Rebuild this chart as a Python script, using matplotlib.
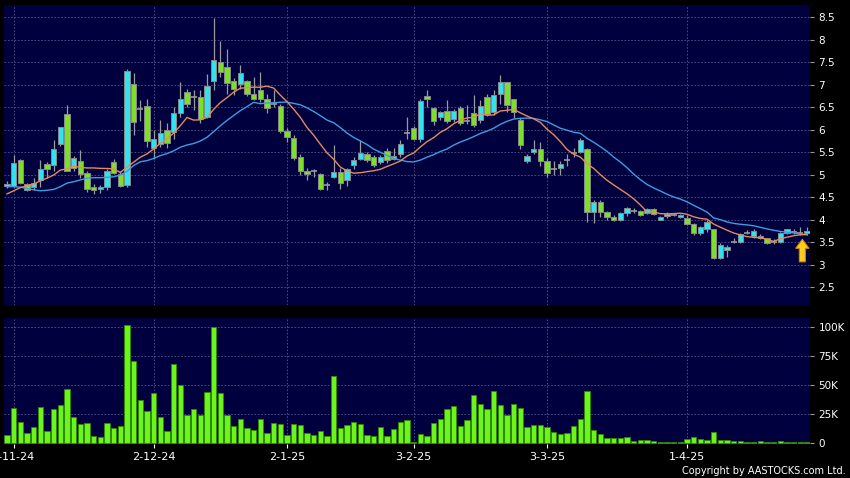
import numpy as np
import pandas as pd
import matplotlib
matplotlib.use("Agg")
import matplotlib.pyplot as plt
from matplotlib.patches import FancyArrow
from matplotlib.ticker import FuncFormatter

# Daily candles, 31-10-24 .. 29-4-25
opens = [4.74, 4.75, 5.33, 4.79, 4.72, 4.87, 5.23, 5.22, 5.68, 6.35,
         5.14, 5.31, 5.04, 4.72, 4.69, 4.72, 5.29, 5.01, 4.76, 7.01,
         6.45, 6.53, 5.58, 5.69, 5.99, 5.95, 6.36, 6.84, 6.72, 6.72,
         6.28, 7.08, 7.51, 7.40, 7.08, 7.01, 7.08, 6.80, 6.88, 6.69,
         6.56, 6.53, 5.97, 5.82, 5.40, 5.08, 5.08, 5.01, 4.77, 4.94,
         5.06, 4.88, 5.21, 5.34, 5.46, 5.40, 5.28, 5.53, 5.41, 5.45,
         5.93, 6.04, 5.80, 6.75, 6.48, 6.28, 6.42, 6.23, 6.47, 6.18,
         6.36, 6.21, 6.73, 6.38, 6.80, 7.05, 6.67, 6.21, 5.30, 5.51,
         5.56, 5.31, 5.12, 5.14, 5.32, 5.50, 5.51, 5.56, 4.17, 4.40,
         4.17, 4.06, 3.99, 4.14, 4.20, 4.18, 4.14, 4.23, 4.00, 4.08,
         4.10, 4.06, 4.04, 3.89, 3.69, 3.78, 3.78, 3.14, 3.32, 3.51,
         3.51, 3.71, 3.63, 3.63, 3.58, 3.51, 3.51, 3.71, 3.75, 3.71,
         3.69]
highs = [4.86, 5.43, 5.35, 4.82, 4.93, 5.33, 5.27, 5.77, 6.06, 6.55,
         5.42, 5.54, 5.07, 4.79, 4.77, 5.12, 5.34, 5.07, 7.34, 7.26,
         6.65, 6.69, 6.00, 6.21, 6.14, 6.51, 7.06, 6.90, 6.88, 6.88,
         7.23, 8.49, 7.97, 7.80, 7.15, 7.43, 7.10, 7.17, 7.28, 6.80,
         6.88, 6.56, 6.03, 5.88, 5.45, 5.14, 5.12, 5.03, 4.83, 5.66,
         5.14, 5.14, 5.38, 5.77, 5.50, 5.44, 5.44, 5.58, 5.60, 5.77,
         6.27, 6.07, 6.67, 6.88, 6.51, 6.41, 6.66, 6.45, 6.52, 6.55,
         6.77, 6.66, 6.80, 6.89, 7.21, 7.06, 6.69, 6.25, 5.46, 5.77,
         5.73, 5.36, 5.30, 5.30, 5.46, 5.60, 5.82, 5.58, 4.43, 4.43,
         4.20, 4.10, 4.17, 4.27, 4.25, 4.21, 4.25, 4.25, 4.08, 4.16,
         4.13, 4.12, 4.10, 3.93, 3.86, 3.99, 3.80, 3.47, 3.43, 3.60,
         3.69, 3.77, 3.78, 3.68, 3.60, 3.57, 3.73, 3.80, 3.78, 3.83,
         3.84]
lows = [4.70, 4.72, 4.78, 4.63, 4.66, 4.73, 4.92, 5.09, 5.63, 5.07,
        5.08, 4.92, 4.62, 4.57, 4.58, 4.66, 5.01, 4.72, 4.73, 5.88,
        6.20, 5.62, 5.34, 5.62, 5.60, 5.80, 6.28, 6.50, 6.43, 6.15,
        6.25, 6.88, 7.17, 6.80, 6.78, 6.91, 6.75, 6.65, 6.62, 6.36,
        6.50, 5.92, 5.73, 5.32, 4.99, 4.88, 4.95, 4.66, 4.66, 4.92,
        4.69, 4.74, 5.12, 5.32, 5.29, 5.17, 5.23, 5.25, 5.32, 5.40,
        5.80, 5.76, 5.73, 6.51, 6.10, 6.21, 6.14, 6.17, 6.10, 6.12,
        6.06, 6.14, 6.30, 6.32, 6.58, 6.40, 6.25, 5.56, 5.25, 5.46,
        5.20, 4.94, 5.00, 5.00, 5.20, 5.40, 5.47, 3.95, 3.92, 4.05,
        4.00, 3.97, 3.97, 4.07, 4.15, 4.08, 4.12, 4.10, 3.99, 4.04,
        4.07, 4.04, 3.87, 3.66, 3.66, 3.73, 3.13, 3.12, 3.17, 3.48,
        3.48, 3.68, 3.60, 3.56, 3.46, 3.46, 3.48, 3.68, 3.68, 3.66,
        3.66]
closes = [4.78, 5.25, 4.81, 4.66, 4.81, 5.12, 5.12, 5.57, 6.06, 5.09,
          5.36, 5.01, 4.67, 4.66, 4.72, 5.09, 5.04, 4.75, 7.30, 6.17,
          6.45, 5.74, 5.78, 5.93, 5.71, 6.36, 6.69, 6.56, 6.72, 6.23,
          6.98, 7.54, 7.28, 7.04, 6.91, 7.25, 6.80, 6.69, 6.69, 6.47,
          6.56, 5.97, 5.83, 5.37, 5.08, 5.01, 5.08, 4.69, 4.77, 5.05,
          4.82, 5.12, 5.32, 5.47, 5.32, 5.21, 5.40, 5.32, 5.34, 5.69,
          5.93, 5.80, 6.64, 6.68, 6.20, 6.39, 6.20, 6.42, 6.14, 6.18,
          6.10, 6.53, 6.34, 6.78, 7.06, 6.54, 6.40, 5.66, 5.42, 5.56,
          5.31, 5.03, 5.12, 5.23, 5.32, 5.47, 5.77, 4.17, 4.40, 4.17,
          4.05, 3.99, 4.14, 4.25, 4.20, 4.11, 4.23, 4.12, 4.05, 4.13,
          4.10, 4.09, 3.89, 3.69, 3.83, 3.95, 3.14, 3.43, 3.38, 3.51,
          3.67, 3.71, 3.74, 3.58, 3.48, 3.51, 3.71, 3.78, 3.72, 3.71,
          3.74]
# volume in thousands of shares
volumes = [6.6, 30.5, 18.4, 8.9, 13.8, 31.3, 10.1, 29.0, 33.0, 46.6,
           22.7, 16.1, 17.0, 6.0, 4.9, 17.5, 13.2, 14.9, 101.4, 70.7,
           37.1, 27.6, 43.1, 22.4, 10.3, 68.1, 49.7, 24.4, 29.0, 23.9,
           44.0, 100.0, 42.8, 23.9, 14.7, 20.7, 12.6, 11.5, 20.7, 8.6,
           17.5, 16.4, 7.2, 16.4, 15.5, 8.6, 7.2, 10.6, 5.7, 57.2,
           12.6, 15.2, 18.4, 16.1, 7.2, 6.0, 14.1, 6.3, 12.1, 17.8,
           19.5, 0.6, 7.4, 6.0, 17.0, 20.7, 29.0, 31.9, 14.7, 19.8,
           41.4, 33.6, 29.3, 44.8, 32.8, 24.1, 33.3, 29.9, 14.1, 15.2,
           15.2, 13.5, 9.8, 7.8, 8.6, 14.9, 20.4, 44.5, 11.5, 7.5,
           4.0, 4.0, 4.3, 5.2, 1.7, 2.3, 2.3, 2.0, 1.1, 1.1,
           1.1, 1.1, 3.7, 4.9, 3.7, 2.6, 9.2, 2.6, 2.3, 2.0,
           1.7, 0.9, 0.6, 1.4, 1.1, 1.1, 1.7, 1.1, 1.1, 1.1,
           0.9]

# moving averages before enough history is shown
ma10_start = [4.57, 4.64, 4.71, 4.75, 4.79, 4.86, 4.92, 4.99, 5.10]
ma20_start = [4.73, 4.73, 4.72, 4.69, 4.66, 4.64, 4.65, 4.67, 4.73, 4.81,
              4.84, 4.88, 4.92, 4.93, 4.93, 4.94, 4.95, 4.99, 5.07]

# x labels: first trading day of each month
date_idx = [1, 22, 42, 61, 81, 102]
date_labels = ["1-11-24", "2-12-24", "2-1-25", "3-2-25", "3-3-25", "1-4-25"]

o = np.array(opens)
h = np.array(highs)
l = np.array(lows)
c = np.array(closes)
v = np.array(volumes) * 1000
n = len(c)
x = np.arange(n)

ma10 = pd.Series(c).rolling(10).mean().to_numpy()
ma10[:len(ma10_start)] = ma10_start
ma20 = pd.Series(c).rolling(20).mean().to_numpy()
ma20[:len(ma20_start)] = ma20_start

BG = "#00003f"
GRID = "#55558a"
CYAN = "#2fe3f0"
GREEN = "#7be026"
GRAY = "#9a9a9a"

W, H = 850, 478
fig = plt.figure(figsize=(W / 100, H / 100), dpi=100, facecolor="black")
ax = fig.add_axes([4 / W, (H - 305) / H, 806 / W, 300 / H], facecolor=BG)
axv = fig.add_axes([4 / W, (H - 444) / H, 806 / W, 126 / H], facecolor=BG)

# candles
ax.vlines(x, l, h, color=GRAY, lw=0.9, zorder=2)
up = c > o
dn = c < o
eq = c == o
ax.bar(x[up], (c - o)[up], bottom=o[up], width=0.78, color=CYAN,
       edgecolor="#8a8a8a", lw=0.7, zorder=3)
ax.bar(x[dn], (o - c)[dn], bottom=c[dn], width=0.78, color=GREEN,
       edgecolor="#8a8a8a", lw=0.7, zorder=3)
ax.hlines(c[eq], x[eq] - 0.45, x[eq] + 0.45, color=GRAY, lw=1.2, zorder=3)

ax.plot(x, ma20, color="#3a9ee0", lw=1.0, zorder=4)
ax.plot(x, ma10, color="#e58a5c", lw=1.0, zorder=4)

# arrow under the last candle
ax.add_patch(FancyArrow(n - 1.7, l[-1] - 0.6, 0, 0.5, width=0.9,
                        head_width=2.0, head_length=0.2,
                        length_includes_head=True, facecolor="#ffcc22",
                        edgecolor="#d08a00", lw=0.8, zorder=5))

# volume
axv.bar(x, v, width=0.82, color="#6cf51c", edgecolor="#2f8a00", lw=0.6,
        zorder=3)

for a in (ax, axv):
    a.set_xlim(-0.45, n - 0.55)
    a.set_xticks(date_idx)
    a.grid(True, color=GRID, lw=0.6, ls=(0, (2, 2)))
    a.set_axisbelow(True)
    for s in a.spines.values():
        s.set_visible(False)
    a.yaxis.tick_right()
    a.tick_params(axis="y", colors=GRAY, labelcolor="white", length=3,
                  width=0.8, pad=3, labelsize=7.5)

ax.set_ylim(2.1, 8.77)
ax.set_yticks(np.arange(2.5, 8.51, 0.5))
ax.yaxis.set_major_formatter(FuncFormatter(lambda val, pos: f"{val:g}"))
ax.tick_params(axis="x", length=0, labelbottom=False)

axv.set_ylim(-900, 107500)
axv.set_yticks([0, 25000, 50000, 75000, 100000])
axv.yaxis.set_major_formatter(
    FuncFormatter(lambda val, pos: "0" if val == 0 else f"{val / 1000:g}K"))
axv.set_xticklabels(date_labels)
axv.tick_params(axis="x", colors="white", labelcolor="white", length=3,
                width=0.8, pad=3, labelsize=8)

fig.text(846 / W, 2 / H, "Copyright by AASTOCKS.com Ltd.", color="white",
         fontsize=7, ha="right", va="bottom")

fig.savefig("out.png", dpi=100, facecolor="black")
